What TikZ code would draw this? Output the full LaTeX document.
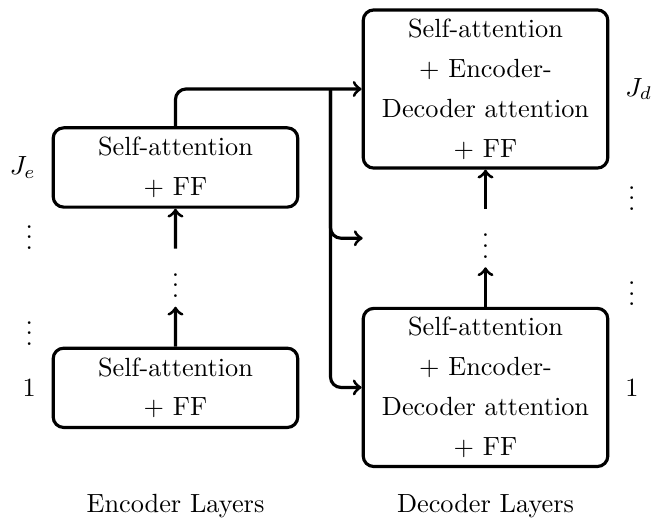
\documentclass[tikz,border=0pt]{standalone}
\usetikzlibrary{calc,positioning}

\begin{document}
\begin{tikzpicture}[
		layer/.style={draw, very thick, rounded corners=4pt, align=center, minimum width=3.27cm, font=\fontsize{10pt}{15.2pt}\selectfont},
		enclayer/.style={layer, minimum height=1.06cm},
		declayer/.style={layer, minimum height=2.11cm},
		dotsnode/.style={minimum width=3.27cm},
		conn/.style={->, very thick, rounded corners=4pt}
	]
		\useasboundingbox (0,0) rectangle (8.864,6.925);
		
		%encoder layers
		\node[enclayer] (etop) at (2.346,4.686) {Self-attention\\+ FF};
		\node[enclayer] (ebot) at (2.346,1.740) {Self-attention\\+ FF};
		\node[dotsnode] (edots) at ($(etop.south)!0.5!(ebot.north)$) {$\vdots$};
		
		%decoder layers
		\node[declayer] (dtop) at (6.491,5.735) {Self-attention\\+ Encoder-\\Decoder attention\\+ FF};
		\node[declayer] (dbot) at (6.491,1.745) {Self-attention\\+ Encoder-\\Decoder attention\\+ FF};
		\node[dotsnode] (ddots) at ($(dtop.south)!0.5!(dbot.north)$) {$\vdots$};
		
		%layer indexes
		\node[left=2.5pt of etop] (je) {$J_e$};
		\node[left=2.5pt of ebot] (e1) {1};
		\node (eidx1) at ($(e1 |- etop.south)+(0,-0.28)$) {$\vdots$};
		\node (eidx2) at ($(e1 |- ebot.north)+(0,0.28)$) {$\vdots$};
		
		\node[right=2.5pt of dtop] (jd) {$J_d$};
		\node[right=2.5pt of dbot] (d1) {1};
		\node (didx1) at ($(d1 |- dtop.south)+(0,-0.28)$) {$\vdots$};
		\node (didx2) at ($(d1 |- dbot.north)+(0,0.28)$) {$\vdots$};
		
		%captions
		\coordinate (lblbase) at (0,0.067);
		\node[anchor=base] (enclbl) at (etop |- lblbase) {Encoder Layers};
		\node[anchor=base] (declbl) at (dtop |- lblbase) {Decoder Layers};
		
		%arrows
		\draw[conn] (ebot) -- (edots);
		\draw[conn] (edots) -- (etop);
		\draw[conn] (dbot) -- (ddots);
		\draw[conn] (ddots) -- (dtop);
		
		\coordinate (split) at ($(etop.east |- dtop.west)!0.5!(dtop.west)$);
		\draw[conn] (etop.north) |- (dtop.west);
		\draw[conn] (split) |- (ddots.west);
		\draw[conn] (split) |- (dbot.west);
	\end{tikzpicture}
\end{document}
